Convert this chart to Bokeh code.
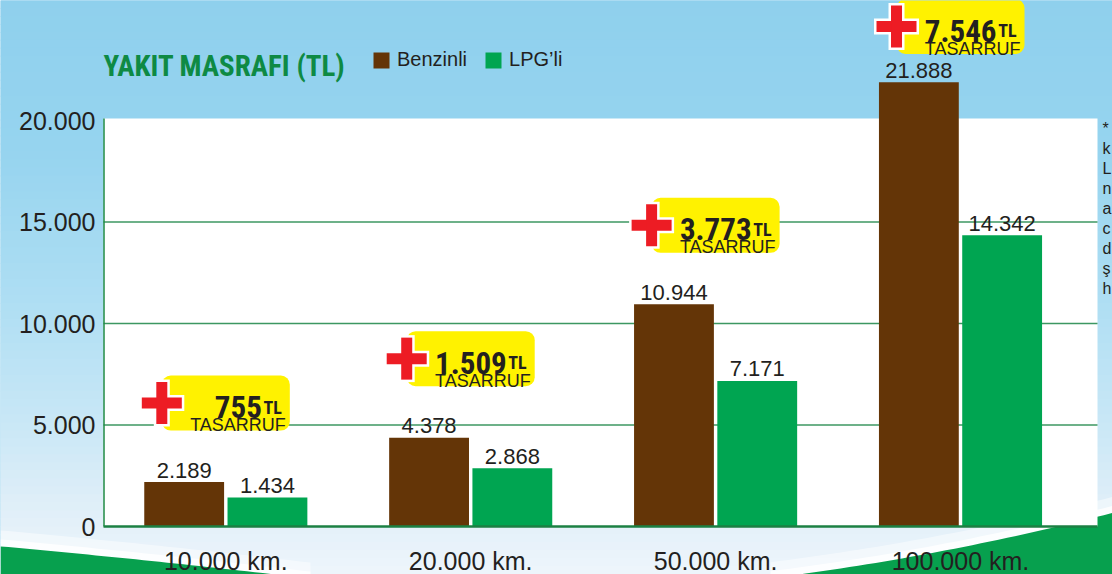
import numpy as np
from bokeh.plotting import figure
from bokeh.models import (Range1d, LinearAxis, FixedTicker, ColumnDataSource, Label,
                          Legend, LegendItem)
from bokeh.core.properties import value
from bokeh.embed import file_html
from bokeh.resources import INLINE

# ---------------- data ----------------
distances = ["10.000 km.", "20.000 km.", "50.000 km.", "100.000 km."]
benzinli = [2189, 4378, 10944, 21888]
lpgli = [1434, 2868, 7171, 14342]
tasarruf = [755, 1509, 3773, 7546]
y_ticks = [0, 5000, 10000, 15000, 20000]
series_names = ["Benzinli", "LPG\u2019li"]
title_text = "YAKIT MASRAFI (TL)"
callout_word = "TASARRUF"
footnote_chars = ["*", "k", "L", "n", "a", "c", "d", "\u015f", "h"]

BROWN = "#643507"
GREEN = "#00a551"
INK = "#231f20"
NARROW = "Roboto Condensed, Open Sans Condensed, Liberation Sans Narrow, DejaVu Sans Condensed"
SANS = "Liberation Sans"


def tr(n):
    return f"{n:,}".replace(",", ".")


# ---------------- geometry helpers (pixels <-> data) ----------------
W, H = 1112, 574
KX = 244.9          # px per category step
KY = 0.0203         # px per TL
X0 = -0.92
X1 = X0 + W / KX
BASE_PX = 526
Y1 = BASE_PX / KY
Y0 = Y1 - H / KY


def px2x(px):
    return X0 + np.asarray(px, dtype=float) / KX


def px2y(py):
    return Y1 - np.asarray(py, dtype=float) / KY


PLOT_L, PLOT_R, PLOT_T = 103, 1097, 118

p = figure(width=W, height=H, x_range=Range1d(X0, X1), y_range=Range1d(Y0, Y1),
           x_axis_type=None, y_axis_type=None, toolbar_location=None,
           output_backend="svg", min_border=0, min_border_left=0, min_border_right=0,
           min_border_top=0, min_border_bottom=0, outline_line_color=None,
           background_fill_color="#8fd0ed", border_fill_color="#8fd0ed")
p.xgrid.visible = False
p.ygrid.visible = False

# ---------------- sky gradient ----------------
stops_py = [0, 150, 300, 420, 500, 574]
stops_rgb = [(143, 208, 237), (150, 212, 239), (174, 222, 243), (200, 231, 246),
             (222, 238, 248), (238, 245, 251)]
edges = np.linspace(0, H, 73)
mids = (edges[:-1] + edges[1:]) / 2
cols = []
for m in mids:
    rgb = [int(round(np.interp(m, stops_py, [c[i] for c in stops_rgb]))) for i in range(3)]
    cols.append("#%02x%02x%02x" % tuple(rgb))
p.quad(left=X0, right=X1, top=px2y(edges[:-1] - 0.5), bottom=px2y(edges[1:] + 0.5),
       fill_color=cols, line_color=None)

# ---------------- green hills (decoration) ----------------
def hill(pts, close_pts, shift=0.0):
    xs = np.array([q[0] for q in pts], dtype=float)
    ys = np.array([q[1] for q in pts], dtype=float)
    coef = np.polyfit(xs, ys, 2)
    xx = np.linspace(xs.min(), xs.max(), 40)
    yy = np.polyval(coef, xx) - shift
    px_x = list(xx) + [c[0] for c in close_pts]
    px_y = list(yy) + [c[1] for c in close_pts]
    return px2x(px_x), px2y(px_y)

left_edge = [(0, 546), (100, 555), (200, 566), (310, 578)]
right_edge = [(770, 578), (900, 557), (1000, 540), (1112, 512)]
for edge, close in ((left_edge, [(310, 580), (0, 580)]), (right_edge, [(1112, 580), (770, 580)])):
    hx, hy = hill(edge, close, shift=16)
    p.patch(hx, hy, fill_color="white", fill_alpha=0.45, line_color=None)
    hx, hy = hill(edge, close, shift=7)
    p.patch(hx, hy, fill_color="white", fill_alpha=0.8, line_color=None)
    hx, hy = hill(edge, close)
    p.patch(hx, hy, fill_color="#07a04e", line_color=None)

# ---------------- plot area ----------------
p.quad(left=px2x(PLOT_L), right=px2x(PLOT_R), top=px2y(PLOT_T), bottom=0,
       fill_color="white", line_color=None)
grid_vals = [t for t in y_ticks if 0 < t < 20000]
p.segment(x0=[px2x(PLOT_L)] * len(grid_vals), x1=[px2x(PLOT_R)] * len(grid_vals),
          y0=grid_vals, y1=grid_vals, line_color="#3c9762", line_width=1.4)

# ---------------- bars ----------------
idx = np.arange(len(distances))
BAR_W = 0.326
OFF = 0.17
src = ColumnDataSource(dict(xb=idx - OFF, xl=idx + OFF, benzinli=benzinli, lpgli=lpgli,
                            tb=[tr(v) for v in benzinli], tl=[tr(v) for v in lpgli]))
rb = p.vbar(x="xb", top="benzinli", width=BAR_W, source=src, fill_color=BROWN, line_color=None)
rl = p.vbar(x="xl", top="lpgli", width=BAR_W, source=src, fill_color=GREEN, line_color=None)

# frame lines
p.segment(x0=[px2x(PLOT_L)], x1=[px2x(PLOT_R)], y0=[0], y1=[0], line_color="#1b8043", line_width=2.5)
p.segment(x0=[px2x(PLOT_L + 0.5)], x1=[px2x(PLOT_L + 0.5)], y0=[0], y1=[px2y(PLOT_T)],
          line_color="#1e8a45", line_width=1.5)

# value labels
for xcol, tcol, vcol in (("xb", "tb", "benzinli"), ("xl", "tl", "lpgli")):
    p.text(x=xcol, y=vcol, text=tcol, source=src, text_align="center",
           text_baseline="alphabetic", y_offset=-12, text_font=value(SANS),
           text_font_size="22px", text_color=INK)

# ---------------- savings callouts ----------------
cap_y = float(px2y(26))
box_y = [min(b + 79 / KY, cap_y) for b in benzinli]
cx = idx.astype(float)
plus_x = cx - 64 / KX
p.rect(x=cx, y=box_y, width=128, height=55, width_units="screen", height_units="screen",
       fill_color="#fff200", line_color=None, border_radius=9)
p.rect(x=plus_x, y=box_y, width=45, height=16, width_units="screen", height_units="screen",
       fill_color="white", line_color=None)
p.rect(x=plus_x, y=box_y, width=16, height=47, width_units="screen", height_units="screen",
       fill_color="white", line_color=None)
p.rect(x=plus_x, y=box_y, width=40, height=11, width_units="screen", height_units="screen",
       fill_color="#ed1c24", line_color=None)
p.rect(x=plus_x, y=box_y, width=11, height=42, width_units="screen", height_units="screen",
       fill_color="#ed1c24", line_color=None)
p.text(x=cx, y=box_y, text=[tr(v) for v in tasarruf], x_offset=36, y_offset=4,
       text_align="right", text_baseline="alphabetic", text_font=value(NARROW),
       text_font_style="bold", text_font_size="31px", text_color=INK)
p.text(x=cx, y=box_y, text=["TL"] * len(cx), x_offset=56, y_offset=4,
       text_align="right", text_baseline="alphabetic", text_font=value(NARROW),
       text_font_style="bold", text_font_size="18px", text_color=INK)
p.text(x=cx, y=box_y, text=[callout_word] * len(cx), x_offset=60, y_offset=22,
       text_align="right", text_baseline="alphabetic", text_font=value(SANS),
       text_font_size="18px", text_color=INK)

# ---------------- footnote fragment (cut at right edge in the original) ----------------
p.text(x=[float(px2x(1102))] * len(footnote_chars),
       y=list(px2y(128 + 20 * np.arange(len(footnote_chars)))),
       text=footnote_chars, text_align="left", text_baseline="alphabetic",
       text_font=value(SANS), text_font_size="16px", text_color=INK)

# ---------------- title & legend ----------------
p.add_layout(Label(x=float(px2x(PLOT_L)), y=float(px2y(65)), text=title_text,
                   text_font=NARROW, text_font_style="bold", text_font_size="29px",
                   text_color="#0e8a44", text_baseline="alphabetic"))
legend = Legend(items=[LegendItem(label=series_names[0], renderers=[rb]),
                       LegendItem(label=series_names[1], renderers=[rl])],
                orientation="horizontal", location=(371, 503), padding=0, margin=0,
                spacing=16, label_standoff=6, glyph_width=20, glyph_height=20,
                label_text_font=SANS, label_text_font_size="20px",
                label_text_color=INK, background_fill_alpha=0, border_line_alpha=0)
p.add_layout(legend)

# ---------------- axes ----------------
yaxis = LinearAxis(fixed_location=float(px2x(PLOT_L)), ticker=FixedTicker(ticks=y_ticks),
                   major_label_overrides={t: tr(t) for t in y_ticks},
                   axis_line_color=None, major_tick_line_color=None,
                   minor_tick_line_color=None, major_tick_out=0, major_tick_in=0,
                   major_label_standoff=8, major_label_text_font=SANS,
                   major_label_text_font_size="25px", major_label_text_color=INK)
p.add_layout(yaxis, "left")
xaxis = LinearAxis(fixed_location=0, ticker=FixedTicker(ticks=list(idx)),
                   major_label_overrides={int(i): d for i, d in zip(idx, distances)},
                   axis_line_color=None, major_tick_line_color=None,
                   minor_tick_line_color=None, major_tick_out=0, major_tick_in=0,
                   major_label_standoff=20, major_label_text_font=SANS,
                   major_label_text_font_size="25px", major_label_text_color=INK)
p.add_layout(xaxis, "below")

open("out.html", "w").write(file_html(p, INLINE))
